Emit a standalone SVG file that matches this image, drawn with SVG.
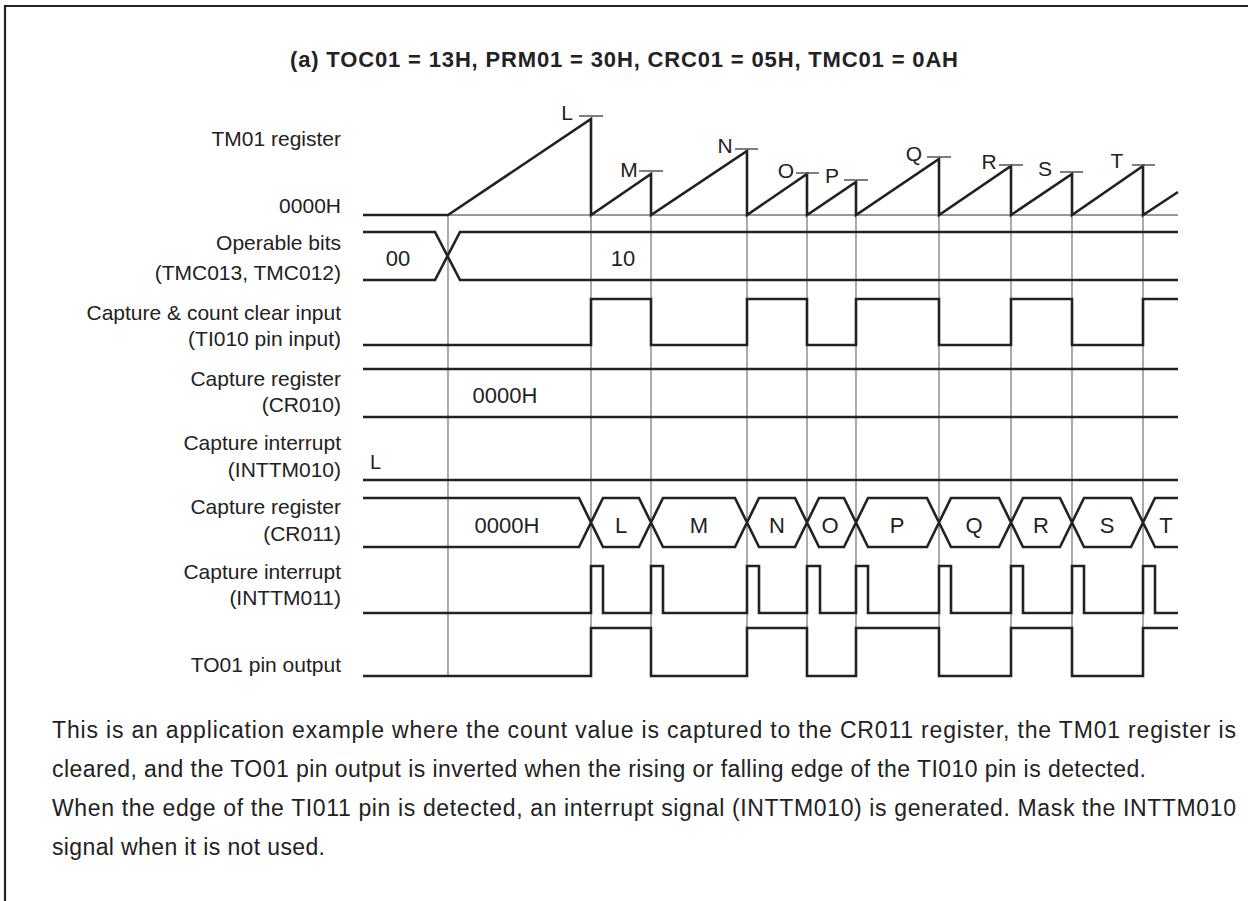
<svg xmlns="http://www.w3.org/2000/svg" width="1248" height="901" viewBox="0 0 1248 901">
<style>
text{font-family:"Liberation Sans",Arial,sans-serif;fill:#222}
.lbl{font-size:21px;text-anchor:end}
.val{font-size:22px;text-anchor:middle}
.pk{font-size:21px;text-anchor:middle}
.par{font-size:23px}
.sig{fill:none;stroke:#222;stroke-width:2.6;stroke-linejoin:miter}
.grid{fill:none;stroke:#666;stroke-width:1.1}
.thin{fill:none;stroke:#333;stroke-width:1.2}
.tick{fill:none;stroke:#555;stroke-width:1.4}
</style>
<rect width="1248" height="901" fill="#fff"/>
<path d="M5,901 V6 H1248" fill="none" stroke="#222" stroke-width="2.2"/>
<text x="290" y="67" font-size="22" font-weight="bold" textLength="668" lengthAdjust="spacing">(a) TOC01 = 13H, PRM01 = 30H, CRC01 = 05H, TMC01 = 0AH</text>

<g id="labels">
<text class="lbl" x="341" y="146">TM01 register</text>
<text class="lbl" x="341" y="213">0000H</text>
<text class="lbl" x="341" y="250">Operable bits</text>
<text class="lbl" x="341" y="280">(TMC013, TMC012)</text>
<text class="lbl" x="341" y="320">Capture &amp; count clear input</text>
<text class="lbl" x="341" y="346">(TI010 pin input)</text>
<text class="lbl" x="341" y="386">Capture register</text>
<text class="lbl" x="341" y="412">(CR010)</text>
<text class="lbl" x="341" y="450">Capture interrupt</text>
<text class="lbl" x="341" y="477">(INTTM010)</text>
<text class="lbl" x="341" y="514">Capture register</text>
<text class="lbl" x="341" y="541">(CR011)</text>
<text class="lbl" x="341" y="579">Capture interrupt</text>
<text class="lbl" x="341" y="605">(INTTM011)</text>
<text class="lbl" x="341" y="672">TO01 pin output</text>
</g>

<g id="gridlines">
<path class="grid" d="M448,215 V676 M591,215 V628 M651,215 V628 M747,215 V628 M807,215 V628 M856,215 V628 M939,215 V628 M1011,215 V628 M1072,215 V628 M1143,215 V628"/>
</g>

<g id="tm01">
<path class="thin" d="M448,215 H1178"/>
<path class="sig" d="M363,215 H448 L591,119 V215 L651,174 V215 L747,151 V215 L807,174 V215 L856,182 V215 L939,159 V215 L1011,166 V215 L1072,174 V215 L1143,166 V215 L1178,192"/>
<path class="tick" d="M579,116 H603 M639,171 H663 M735,149 H758 M796,173 H819 M844,180 H868 M927,157 H951 M999,165 H1023 M1060,172 H1083 M1132,165 H1155"/>
<text class="pk" x="567" y="120">L</text>
<text class="pk" x="629" y="177">M</text>
<text class="pk" x="725" y="153">N</text>
<text class="pk" x="786" y="178">O</text>
<text class="pk" x="832" y="183">P</text>
<text class="pk" x="914" y="161">Q</text>
<text class="pk" x="989" y="169">R</text>
<text class="pk" x="1045" y="176">S</text>
<text class="pk" x="1117" y="168">T</text>
</g>

<g id="operable-bits">
<path class="sig" d="M363,232 H435 L460,280 H1178 M363,280 H435 L460,232 H1178"/>
<text class="val" x="398" y="266" font-size="21">00</text>
<text class="val" x="623" y="266" font-size="21">10</text>
</g>

<g id="ti010">
<path class="sig" d="M363,345 H591 V299 H651 V345 H747 V299 H807 V345 H856 V299 H939 V345 H1011 V299 H1072 V345 H1143 V299 H1178"/>
</g>

<g id="cr010">
<path class="sig" d="M363,369 H1178 M363,417 H1178"/>
<text class="val" x="505" y="403" font-size="23">0000H</text>
</g>

<g id="inttm010">
<path class="sig" d="M363,480 H1178"/>
<text x="370" y="469" font-size="20">L</text>
</g>

<g id="cr011">
<path class="sig" d="M363,498 H579 L603,547 H639 L663,498 H735 L759,547 H795 L819,498 H844 L868,547 H927 L951,498 H999 L1023,547 H1060 L1084,498 H1131 L1155,547 H1178
M363,547 H579 L603,498 H639 L663,547 H735 L759,498 H795 L819,547 H844 L868,498 H927 L951,547 H999 L1023,498 H1060 L1084,547 H1131 L1155,498 H1178"/>
<text class="val" x="507" y="533" font-size="23">0000H</text>
<text class="val" x="621" y="533">L</text>
<text class="val" x="699" y="533">M</text>
<text class="val" x="777" y="533">N</text>
<text class="val" x="830" y="533">O</text>
<text class="val" x="897" y="533">P</text>
<text class="val" x="974" y="533">Q</text>
<text class="val" x="1041" y="533">R</text>
<text class="val" x="1107" y="533">S</text>
<text class="val" x="1166" y="533">T</text>
</g>

<g id="inttm011">
<path class="sig" d="M363,613 H591 V566 H603 V613 H651 V566 H663 V613 H747 V566 H759 V613 H807 V566 H820 V613 H856 V566 H868 V613 H939 V566 H951 V613 H1011 V566 H1023 V613 H1072 V566 H1084 V613 H1143 V566 H1155 V613 H1178"/>
</g>

<g id="to01">
<path class="sig" d="M363,676 H591 V628 H651 V676 H747 V628 H807 V676 H856 V628 H939 V676 H1011 V628 H1072 V676 H1143 V628 H1178"/>
</g>

<g id="description">
<text class="par" x="52" y="738" textLength="1184" lengthAdjust="spacing">This is an application example where the count value is captured to the CR011 register, the TM01 register is</text>
<text class="par" x="52" y="777" textLength="1094" lengthAdjust="spacing">cleared, and the TO01 pin output is inverted when the rising or falling edge of the TI010 pin is detected.</text>
<text class="par" x="52" y="816" textLength="1184" lengthAdjust="spacing">When the edge of the TI011 pin is detected, an interrupt signal (INTTM010) is generated.  Mask the INTTM010</text>
<text class="par" x="52" y="855" textLength="273" lengthAdjust="spacing">signal when it is not used.</text>
</g>
</svg>
